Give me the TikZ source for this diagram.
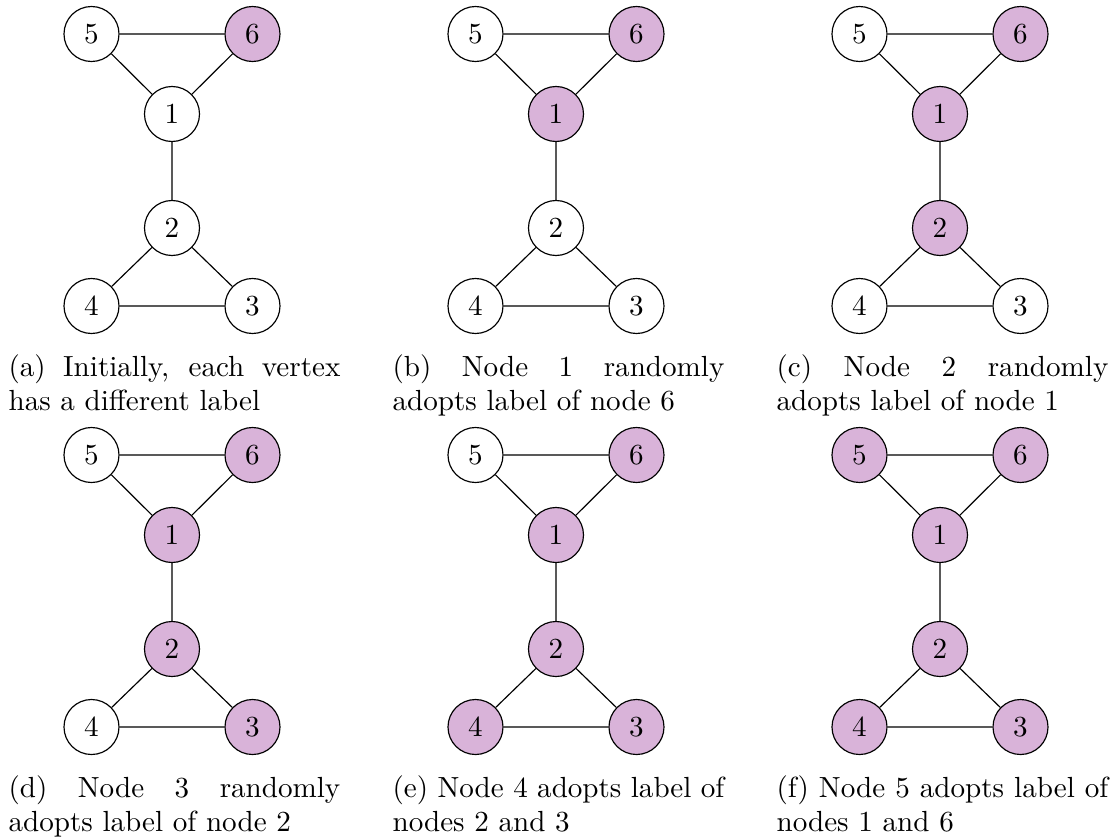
\documentclass[tikz,border=0pt]{standalone}
\usepackage{fontspec}

\definecolor{lbl}{RGB}{217,179,217}
\tolerance=10000
\hyphenpenalty=10000

\tikzset{
  vtx/.style={circle, draw=black, line width=0.4pt, minimum size=18.9pt,
              inner sep=0pt, font=\fontsize{10}{12}\selectfont},
  on/.style={vtx, fill=lbl},
  off/.style={vtx, fill=white},
  edge/.style={draw=black, line width=0.4pt},
  capt/.style={anchor=base west, text width=114pt, align=justify, inner sep=0pt,
               font=\fontsize{10}{12}\selectfont}
}

% One labelled graph: #1 name prefix, #2 x of the centre line, #3 y of the top row,
% #4..#9 styles of vertices 1..6
\newcommand\graphpanel[9]{%
  \node[#4] (#1-1) at (#2, #3+80) {1};
  \node[#5] (#1-2) at (#2, #3+194) {2};
  \node[#6] (#1-3) at (#2+80.5, #3+272) {3};
  \node[#7] (#1-4) at (#2-80.5, #3+272) {4};
  \node[#8] (#1-5) at (#2-80.5, #3) {5};
  \node[#9] (#1-6) at (#2+80.5, #3) {6};
  \draw[edge] (#1-5) -- (#1-6)
              (#1-5) -- (#1-1)
              (#1-6) -- (#1-1)
              (#1-1) -- (#1-2)
              (#1-2) -- (#1-4)
              (#1-2) -- (#1-3)
              (#1-4) -- (#1-3);
}

\begin{document}
\begin{tikzpicture}[x=0.3436pt, y=-0.3436pt]
  \useasboundingbox (0,0) rectangle (1115,838);

  % first row
  \graphpanel{a}{172}{34}{off}{off}{off}{off}{off}{on}
  \graphpanel{b}{556}{34}{on}{off}{off}{off}{off}{on}
  \graphpanel{c}{940}{34}{on}{on}{off}{off}{off}{on}
  \node[capt] (capa) at (8,376)   {(a) Initially, each vertex has a different label};
  \node[capt] (capb) at (392,376) {(b) Node 1 randomly adopts label of node 6};
  \node[capt] (capc) at (776,376) {(c) Node 2 randomly adopts label of node 1};

  % second row
  \graphpanel{d}{172}{455}{on}{on}{on}{off}{off}{on}
  \graphpanel{e}{556}{455}{on}{on}{on}{on}{off}{on}
  \graphpanel{f}{940}{455}{on}{on}{on}{on}{on}{on}
  \node[capt] (capd) at (8,797)   {(d) Node 3 randomly adopts label of node 2};
  \node[capt] (cape) at (392,797) {(e) Node 4 adopts label of nodes 2 and 3};
  \node[capt] (capf) at (776,797) {(f) Node 5 adopts label of nodes 1 and 6};
\end{tikzpicture}
\end{document}
